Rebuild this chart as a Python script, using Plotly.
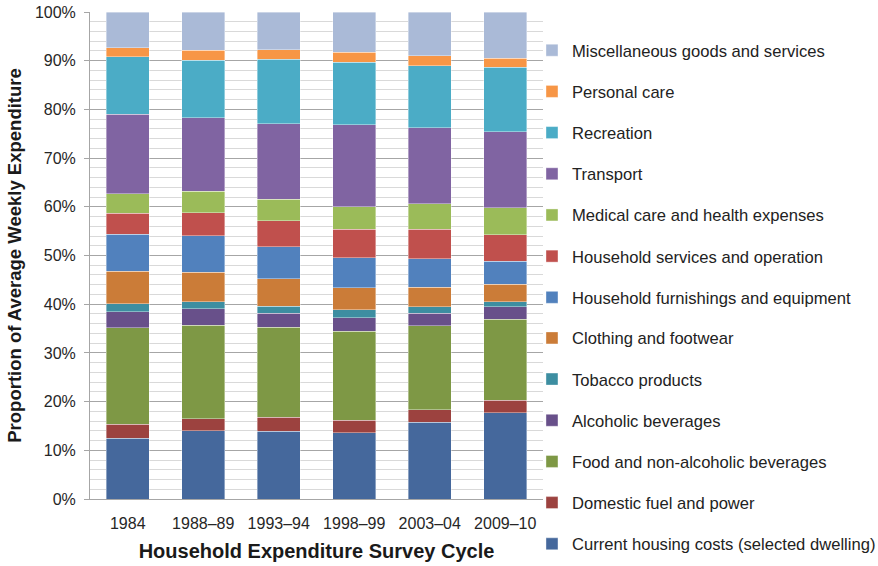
import plotly.graph_objects as go

cycles = ["1984", "1988–89", "1993–94", "1998–99", "2003–04", "2009–10"]

# Share of average weekly expenditure (%), bottom of stack first
housing = [12.5, 14.0, 13.9, 13.6, 15.8, 17.7]
fuel = [2.9, 2.5, 2.9, 2.6, 2.5, 2.6]
food = [19.8, 19.2, 18.5, 18.2, 17.3, 16.6]
alcohol = [3.3, 3.4, 2.8, 2.8, 2.5, 2.6]
tobacco = [1.6, 1.4, 1.5, 1.7, 1.4, 1.0]
clothing = [6.7, 6.1, 5.6, 4.5, 4.0, 3.6]
furnishings = [7.6, 7.5, 6.6, 6.1, 5.8, 4.7]
services = [4.3, 4.7, 5.3, 5.9, 6.1, 5.5]
medical = [4.0, 4.4, 4.5, 4.6, 5.2, 5.5]
transport = [16.3, 15.1, 15.5, 16.9, 15.6, 15.6]
recreation = [11.8, 11.8, 13.2, 12.8, 12.8, 13.3]
personal = [1.9, 2.0, 2.0, 2.0, 2.0, 1.8]
misc = [7.3, 7.9, 7.7, 8.3, 9.0, 9.5]

series = [
    ("Current housing costs (selected dwelling)", housing, "#45689C"),
    ("Domestic fuel and power", fuel, "#9C423F"),
    ("Food and non-alcoholic beverages", food, "#7E9845"),
    ("Alcoholic beverages", alcohol, "#68508A"),
    ("Tobacco products", tobacco, "#3D8EA1"),
    ("Clothing and footwear", clothing, "#CB7C38"),
    ("Household furnishings and equipment", furnishings, "#5181BD"),
    ("Household services and operation", services, "#C0504D"),
    ("Medical care and health expenses", medical, "#9BBB59"),
    ("Transport", transport, "#8064A2"),
    ("Recreation", recreation, "#4BACC6"),
    ("Personal care", personal, "#F79646"),
    ("Miscellaneous goods and services", misc, "#AABAD7"),
]

fig = go.Figure()
n = len(series)
for i, (name, vals, color) in enumerate(series):
    # top of the stack is listed first; the lower six go into a second legend block
    fig.add_trace(go.Bar(
        x=cycles, y=vals, name=name, legendgroup=name,
        legendrank=n - i,
        legend="legend2" if i < 6 else "legend",
        marker=dict(color=color, line=dict(color="rgba(255,255,255,0.55)", width=0.7)),
    ))

font_family = "Liberation Sans, Arial, Helvetica, sans-serif"
legend_style = dict(
    traceorder="grouped",
    tracegroupgap=16.6,
    xanchor="left", yanchor="top",
    xref="paper", yref="paper",
    font=dict(size=16.6, color="#222222", family=font_family),
    itemwidth=30,
    bgcolor="rgba(0,0,0,0)",
)

fig.update_layout(
    barmode="stack",
    bargap=0.43,
    width=878, height=566,
    margin=dict(l=90, r=335, t=12, b=67, autoexpand=False),
    plot_bgcolor="white", paper_bgcolor="white",
    font=dict(family=font_family, color="#333333", size=16),
    legend=dict(x=0.9757, y=0.957, **legend_style),
    legend2=dict(x=0.9757, y=0.3663, **legend_style),
    xaxis=dict(
        title=dict(text="Household Expenditure Survey Cycle",
                   font=dict(size=20, color="#1a1a1a", family=font_family, weight="bold"),
                   standoff=12),
        showline=True, linecolor="#a6a6a6", linewidth=1,
        tickfont=dict(size=16, color="#262626"),
        ticks="", showgrid=False,
        ticklabelstandoff=10,
    ),
    yaxis=dict(
        title=dict(text="Proportion of Average Weekly Expenditure",
                   font=dict(size=18.5, color="#1a1a1a", family=font_family, weight="bold"),
                   standoff=8),
        range=[0, 100], dtick=10, ticksuffix="%",
        showline=True, linecolor="#a6a6a6", linewidth=1,
        showgrid=True, gridcolor="#a6a6a6", gridwidth=1,
        ticks="outside", ticklen=5, tickcolor="#a6a6a6",
        tickfont=dict(size=16, color="#262626"),
        ticklabelstandoff=5,
        minor=dict(dtick=2, showgrid=True, gridcolor="#d9d9d9", gridwidth=1),
        zeroline=False,
    ),
)

fig.write_html("out.html")
